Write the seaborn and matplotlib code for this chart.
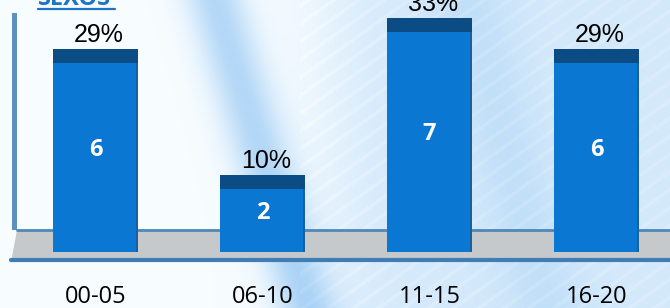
import numpy as np
import seaborn as sns
import matplotlib.pyplot as plt
from matplotlib.patches import Polygon, Rectangle
from matplotlib.lines import Line2D

# datos del grafico

categories = ["00-05", "06-10", "11-15", "16-20"]
counts = [6, 2, 7, 6]
percent_labels = ["29%", "10%", "33%", "29%"]

front_color = "#0a78d2"
cap_color = "#0b4c84"

sns.set_theme(style="white")
plt.rcParams["font.family"] = ["Open Sans", "DejaVu Sans"]

fig = plt.figure(figsize=(6.7, 3.08), dpi=100)
ax = fig.add_axes([0, 0, 1, 1])

sns.barplot(
    x=categories,
    y=counts,
    color=front_color,
    saturation=1,
    width=0.51,
    edgecolor="none",
    linewidth=0,
    ax=ax,
    zorder=3,
)

# escala: 167 px por categoria, 31.5 px por unidad, y=0 en el pixel 252
x_lo, x_hi = -95.5 / 167, (670 - 95.5) / 167
y_hi, y_lo = 252 / 31.5, (252 - 308) / 31.5
ax.set_xlim(x_lo, x_hi)
ax.set_ylim(y_lo, y_hi)

# fondo con franja azul clara
px = np.linspace(0, 670, 670)
py = np.linspace(0, 308, 308)
X, Y = np.meshgrid(px, py)
center = 215 + 0.3 * Y
band = np.exp(-((X - center) / 30) ** 2) * 0.75
right = 0.4 / (1 + np.exp(-(X - 330) / 25))
stripes = 0.08 * (np.sin((X + 1.4 * Y) / 4.0) > 0.7)
band2 = np.exp(-((X - (470 + 0.25 * Y)) / 40) ** 2) * 0.2
t = np.clip(band + right + band2 - stripes * (X > 300), 0, 1)
white = np.array([0.97, 0.99, 1.0])
blue = np.array([0.62, 0.80, 0.96])
img = white * (1 - t[..., None]) + blue * t[..., None]
ax.imshow(img, extent=[x_lo, x_hi, y_lo, y_hi], aspect="auto", zorder=0)

# suelo 3D
fy_top = (252 - 230) / 31.5
fy_bot = (252 - 262) / 31.5
floor = Polygon(
    [(-79 / 167, fy_top), (x_hi, fy_top), (x_hi, fy_bot), (-85 / 167, fy_bot)],
    closed=True, facecolor="#c6c9cb", edgecolor="none", zorder=1
)
ax.add_patch(floor)
ax.plot([-79 / 167, x_hi], [fy_top, fy_top], color="#4f87b8", lw=2, zorder=1.5)
ax.plot([-85 / 167, x_hi], [fy_bot + 0.05, fy_bot + 0.05], color="#3f7db4", lw=3, zorder=1.5)

# pared izquierda
ax.add_patch(Rectangle((-84 / 167, fy_top), 5 / 167, 7.6 - fy_top,
                       facecolor="#5d8fc0", edgecolor="none", zorder=1))

cap = 14 / 31.5
for p, n, pct in zip(ax.patches[:len(counts)], counts, percent_labels):
    xc = p.get_x() + p.get_width() / 2
    ax.bar(p.get_x(), cap, width=p.get_width(), bottom=p.get_height(),
           align="edge", color=cap_color, linewidth=0, zorder=3)
    # sombra lateral derecha
    ax.bar(p.get_x() + p.get_width() - 0.012, p.get_height(), width=0.012,
           align="edge", color="#1b5f9c", linewidth=0, zorder=3.5)
    ax.text(xc, n / 2 + 0.25, str(n), ha="center", va="center",
            color="white", fontsize=17, fontweight="bold", zorder=4)
    ax.text(xc + 0.02, n + cap + 0.05, pct, ha="center", va="bottom",
            color="black", fontsize=18, family="Liberation Sans", zorder=4)

# etiquetas de categoria
for i, c in enumerate(categories):
    ax.text(i, (252 - 297) / 31.5, c, ha="center", va="center",
            fontsize=17, color="black")

ax.set_axis_off()

# titulo cortado
fig.text(38 / 670, 1 - 5 / 308, "SEXOS", ha="left", va="baseline",
         fontsize=17, fontweight="bold", color="#1c74c6")
fig.add_artist(Line2D([38 / 670, 115 / 670], [1 - 9 / 308, 1 - 9 / 308],
                      transform=fig.transFigure, color="#1c74c6", lw=1.6))

fig.savefig("out.png", dpi=100)
